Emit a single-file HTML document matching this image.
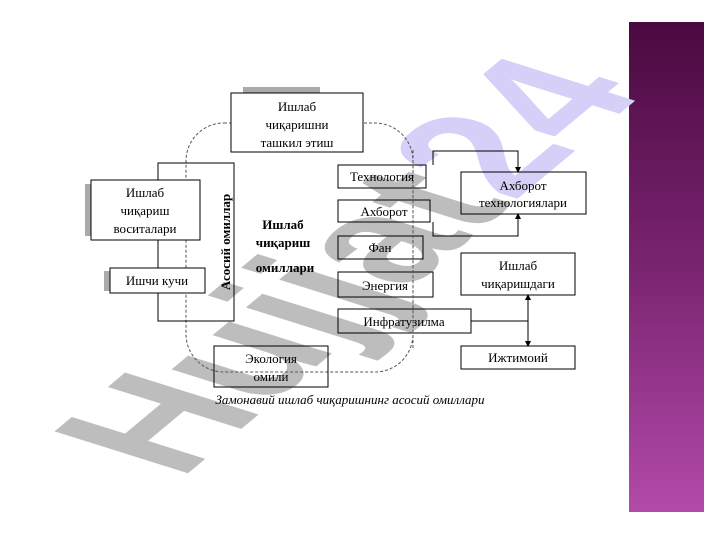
<!DOCTYPE html>
<html><head><meta charset="utf-8"><style>
body{margin:0;width:720px;height:540px;background:#fff;overflow:hidden;position:relative}
svg{position:absolute;left:0;top:0}
</style></head><body>
<svg width="720" height="540" viewBox="0 0 720 540" font-family="Liberation Serif, serif">
<defs>
<linearGradient id="g" x1="0" y1="0" x2="0" y2="1">
<stop offset="0" stop-color="#4a0a40"/><stop offset="0.5" stop-color="#7a2470"/><stop offset="1" stop-color="#b24aaa"/>
</linearGradient>
<marker id="a" markerWidth="6" markerHeight="6" refX="3" refY="3" orient="auto"><path d="M0,0L6,3L0,6z" fill="#000"/></marker>
</defs>
<rect x="629" y="22" width="75" height="490" fill="url(#g)"/>
<!-- watermark -->
<g transform="matrix(1.2,-1.0,1.94,0.61,180,480)" font-family="Liberation Sans, sans-serif" font-weight="bold" font-size="100">
<text x="0" y="0" fill="#bdbdbd">Hujjat<tspan fill="#d6cff8">24</tspan></text>
</g>
<!-- shadows -->
<rect x="243" y="87" width="77" height="7" fill="#aaa"/>
<rect x="85" y="184" width="7" height="52" fill="#aaa"/>
<rect x="104" y="271" width="7" height="20" fill="#aaa"/>
<!-- dashed rounded -->
<rect x="186" y="123" width="227" height="249" rx="38" fill="none" stroke="#555" stroke-dasharray="3,2"/>
<g stroke="#000" stroke-width="1" fill="none">
<rect x="231" y="93" width="132" height="59" fill="#fff"/>
<rect x="158" y="163" width="76" height="158"/>
<rect x="91" y="180" width="109" height="60" fill="#fff"/>
<rect x="110" y="268" width="95" height="25" fill="#fff"/>
<rect x="338" y="165" width="88" height="23"/>
<rect x="338" y="200" width="92" height="22"/>
<rect x="338" y="236" width="85" height="23"/>
<rect x="338" y="272" width="95" height="25"/>
<rect x="338" y="309" width="133" height="24"/>
<rect x="461" y="172" width="125" height="42"/>
<rect x="461" y="253" width="114" height="42" fill="#fff"/>
<rect x="461" y="346" width="114" height="23" fill="#fff"/>
<rect x="214" y="346" width="114" height="41"/>
</g>
<line x1="413" y1="150" x2="413" y2="350" stroke="#555" stroke-dasharray="3,2"/>
<g stroke="#000" fill="none">
<path d="M433,165V151H518V170" marker-end="url(#a)"/>
<path d="M433,222V236H518V216" marker-end="url(#a)"/>
<path d="M471,321H528"/>
<path d="M528,321V297" marker-end="url(#a)"/>
<path d="M528,321V344" marker-end="url(#a)"/>
</g>
<g font-size="13" text-anchor="middle" fill="#000">
<text x="297" y="111">Ишлаб</text><text x="297" y="129">чиқаришни</text><text x="297" y="147">ташкил этиш</text>
<text x="145" y="197">Ишлаб</text><text x="145" y="215">чиқариш</text><text x="145" y="233">воситалари</text>
<text x="157" y="285">Ишчи кучи</text>
<text x="382" y="181">Технология</text>
<text x="384" y="216">Ахборот</text>
<text x="380" y="252">Фан</text>
<text x="385" y="290">Энергия</text>
<text x="404" y="326">Инфратузилма</text>
<text x="523" y="190">Ахборот</text><text x="523" y="207">технологиялари</text>
<text x="518" y="270">Ишлаб</text><text x="518" y="288">чиқаришдаги</text>
<text x="518" y="362">Ижтимоий</text>
<text x="271" y="363">Экология</text><text x="271" y="381">омили</text>
</g>
<g font-size="13" font-weight="bold" text-anchor="middle">
<text x="283" y="229">Ишлаб</text><text x="283" y="247">чиқариш</text><text x="285" y="272">омиллари</text>
<text transform="translate(230,242) rotate(-90)">Асосий омиллар</text>
</g>
<text x="350" y="404" font-size="13" font-style="italic" text-anchor="middle">Замонавий ишлаб чиқаришнинг асосий омиллари</text>
</svg>
</body></html>
